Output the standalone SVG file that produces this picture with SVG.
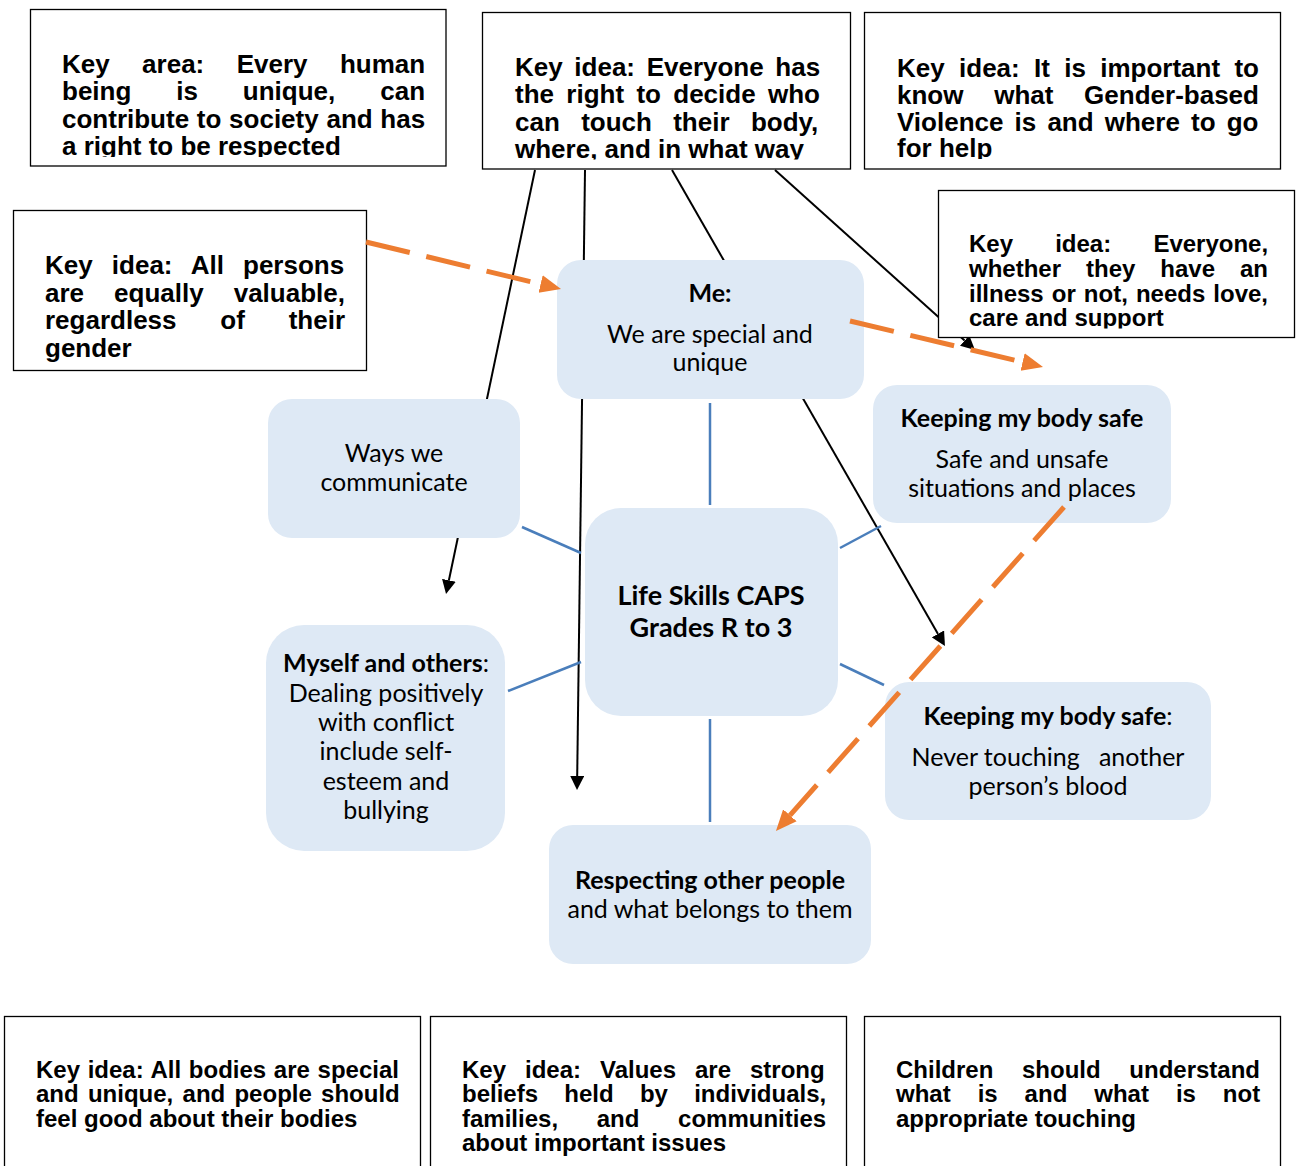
<svg xmlns="http://www.w3.org/2000/svg" width="1300" height="1166" viewBox="0 0 1300 1166">
<style>
.kb{fill:#fff;stroke:#000;stroke-width:1.3}
.kt{font-family:"Liberation Sans",Arial,sans-serif;font-weight:bold;font-size:26px;fill:#000}
.k24{font-size:24px}
.nd{fill:#DEE9F5}
.nt{font-family:Lato,"Open Sans",sans-serif;font-size:25px;fill:#000;text-anchor:middle}
.b{font-weight:bold}
.blue{stroke:#4A7EBB;stroke-width:2.5;fill:none}
.blk{stroke:#000;stroke-width:2;fill:none;marker-end:url(#ab)}
.org{stroke:#ED7D31;stroke-width:5;stroke-dasharray:45 17;fill:none;marker-end:url(#ao)}
</style>
<defs>
<marker id="ao" markerUnits="userSpaceOnUse" markerWidth="22" markerHeight="20" refX="0" refY="10" orient="auto" viewBox="0 0 22 20"><path d="M0,1 L21,10 L0,19 z" fill="#ED7D31"/></marker>
<marker id="ab" markerUnits="userSpaceOnUse" markerWidth="15" markerHeight="14" refX="0" refY="7" orient="auto" viewBox="0 0 15 14"><path d="M0,0 L14,7 L0,14 z" fill="#000"/></marker>
<clipPath id="c-tl"><rect x="30" y="9" width="416" height="148"/></clipPath>
<clipPath id="c-tm"><rect x="482" y="12" width="369" height="147.5"/></clipPath>
<clipPath id="c-tr"><rect x="864" y="12" width="417" height="147"/></clipPath>
<clipPath id="c-ev"><rect x="938" y="190" width="357" height="138.5"/></clipPath>
</defs>
<rect width="1300" height="1166" fill="#fff"/>

<g id="connectors">
<line class="blk" x1="535" y1="170" x2="448.9" y2="580.3"/>
<line class="blk" x1="585" y1="170" x2="577.2" y2="776"/>
<line class="blk" x1="672" y1="170" x2="938" y2="633.9"/>
<line class="blk" x1="775" y1="170" x2="964.6" y2="340.6"/>
<line class="blue" x1="710" y1="403" x2="710" y2="505"/>
<line class="blue" x1="522" y1="527" x2="581" y2="553"/>
<line class="blue" x1="508" y1="691" x2="581" y2="662"/>
<line class="blue" x1="840" y1="548" x2="881" y2="526"/>
<line class="blue" x1="840" y1="664" x2="884" y2="685"/>
<line class="blue" x1="710" y1="719" x2="710" y2="822"/>
</g>

<g id="node-me"><rect class="nd" x="557" y="260" width="307" height="139" rx="24"/>
<text class="nt b" x="710" y="302">Me:</text>
<text class="nt" x="710" y="343">We are special and</text>
<text class="nt" x="710" y="371">unique</text></g>

<g id="node-ways"><rect class="nd" x="268" y="399" width="252" height="139" rx="24"/>
<text class="nt" x="394" y="462">Ways we</text>
<text class="nt" x="394" y="491">communicate</text></g>

<g id="node-safe1"><rect class="nd" x="873" y="385" width="298" height="138" rx="24"/>
<text class="nt b" x="1022" y="427">Keeping my body safe</text>
<text class="nt" x="1022" y="468">Safe and unsafe</text>
<text class="nt" x="1022" y="497">situations and places</text></g>

<g id="node-center"><rect class="nd" x="585" y="508" width="253" height="208" rx="36"/>
<text class="nt b" x="711" y="605" style="font-size:27px">Life Skills CAPS</text>
<text class="nt b" x="711" y="637" style="font-size:27px">Grades R to 3</text></g>

<g id="node-myself"><rect class="nd" x="266" y="625" width="239" height="226" rx="38"/>
<text class="nt" x="386" y="672"><tspan class="b">Myself and others</tspan>:</text>
<text class="nt" x="386" y="702">Dealing positively</text>
<text class="nt" x="386" y="731">with conflict</text>
<text class="nt" x="386" y="760">include self-</text>
<text class="nt" x="386" y="790">esteem and</text>
<text class="nt" x="386" y="819">bullying</text></g>

<g id="node-safe2"><rect class="nd" x="885" y="682" width="326" height="138" rx="24"/>
<text class="nt" x="1048" y="725"><tspan class="b">Keeping my body safe</tspan>:</text>
<text class="nt" x="1048" y="766" style="white-space:pre">Never touching   another</text>
<text class="nt" x="1048" y="795">person’s blood</text></g>

<g id="node-respect"><rect class="nd" x="549" y="825" width="322" height="139" rx="24"/>
<text class="nt b" x="710" y="889">Respecting other people</text>
<text class="nt" x="710" y="918">and what belongs to them</text></g>

<g id="key-area"><rect class="kb" x="30.5" y="9.5" width="415.5" height="156.5"/>
<g clip-path="url(#c-tl)">
<text class="kt" x="62" y="72.7" word-spacing="25.2">Key area: Every human</text>
<text class="kt" x="62" y="100.1" word-spacing="37.7">being is unique, can</text>
<text class="kt" x="62" y="127.5" word-spacing="0.5">contribute to society and has</text>
<text class="kt" x="62" y="154.9">a right to be respected</text></g></g>

<g id="key-touch"><rect class="kb" x="482.5" y="12.5" width="368" height="156.5"/>
<g clip-path="url(#c-tm)">
<text class="kt" x="515" y="76" word-spacing="4.4">Key idea: Everyone has</text>
<text class="kt" x="515" y="103.4" word-spacing="5.1">the right to decide who</text>
<text class="kt" x="515" y="130.9" word-spacing="14.1">can touch their body,</text>
<text class="kt" x="515" y="158.3">where, and in what way</text></g></g>

<g id="key-gbv"><rect class="kb" x="864.5" y="12.5" width="416" height="156.5"/>
<g clip-path="url(#c-tr)">
<text class="kt" x="897" y="77" word-spacing="7.1">Key idea: It is important to</text>
<text class="kt" x="897" y="103.8" word-spacing="23.5">know what Gender-based</text>
<text class="kt" x="897" y="130.6" word-spacing="3.9">Violence is and where to go</text>
<text class="kt" x="897" y="157.4">for help</text></g></g>

<g id="key-persons"><rect class="kb" x="13.5" y="210.5" width="353" height="160"/>
<text class="kt" x="45" y="274" word-spacing="11.9">Key idea: All persons</text>
<text class="kt" x="45" y="301.5" word-spacing="22.8">are equally valuable,</text>
<text class="kt" x="45" y="329" word-spacing="36.6">regardless of their</text>
<text class="kt" x="45" y="356.5">gender</text></g>

<g id="key-illness"><rect class="kb" x="938.5" y="190.5" width="356" height="147"/>
<g clip-path="url(#c-ev)">
<text class="kt k24" x="969" y="252.3" word-spacing="35.5">Key idea: Everyone,</text>
<text class="kt k24" x="969" y="276.9" word-spacing="18.3">whether they have an</text>
<text class="kt k24" x="969" y="301.6" word-spacing="1.4">illness or not, needs love,</text>
<text class="kt k24" x="969" y="326.3">care and support</text></g></g>

<g id="key-bodies"><rect class="kb" x="4.5" y="1016.5" width="416" height="200"/>
<text class="kt k24" x="36" y="1078" word-spacing="1">Key idea: All bodies are special</text>
<text class="kt k24" x="36" y="1102.3" word-spacing="2.6">and unique, and people should</text>
<text class="kt k24" x="36" y="1126.6">feel good about their bodies</text></g>

<g id="key-values"><rect class="kb" x="430.5" y="1016.5" width="416" height="200"/>
<text class="kt k24" x="462" y="1078" word-spacing="12.3">Key idea: Values are strong</text>
<text class="kt k24" x="462" y="1102.3" word-spacing="19.6">beliefs held by individuals,</text>
<text class="kt k24" x="462" y="1126.6" word-spacing="32">families, and communities</text>
<text class="kt k24" x="462" y="1150.9">about important issues</text></g>

<g id="key-children"><rect class="kb" x="864.5" y="1016.5" width="416" height="200"/>
<text class="kt k24" x="896" y="1078" word-spacing="22">Children should understand</text>
<text class="kt k24" x="896" y="1102.3" word-spacing="20.3">what is and what is not</text>
<text class="kt k24" x="896" y="1126.6">appropriate touching</text></g>

<g id="connectors-over">
<line class="org" x1="366" y1="242" x2="540.6" y2="284.1"/>
<line class="org" x1="850" y1="321" x2="1022.6" y2="362.1"/>
<line class="org" x1="1064" y1="507" x2="789.9" y2="815.3"/>
</g>
</svg>
